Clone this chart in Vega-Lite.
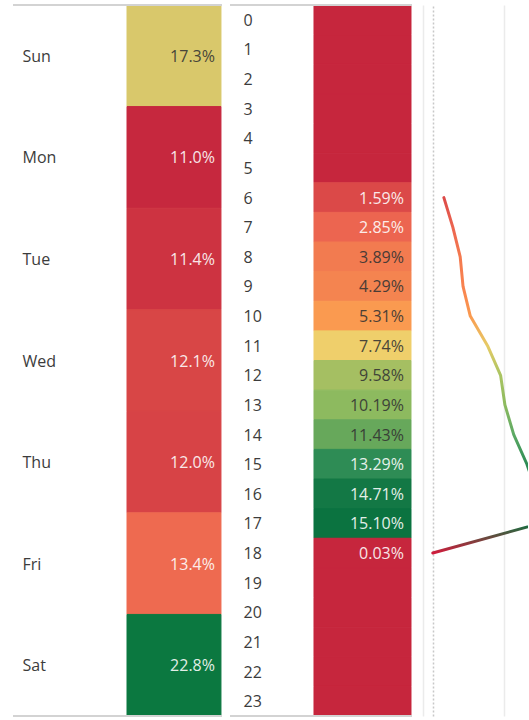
{
  "$schema": "https://vega.github.io/schema/vega-lite/v6.json",
  "padding": {"left": 12, "top": 4, "right": 0, "bottom": 3},
  "config": {"view": {"stroke": null}, "font": "Open Sans", "text": {"font": "Open Sans"}},
  "datasets": {
    "days": [
      {"day": "Sun", "pct": 0.173},
      {"day": "Mon", "pct": 0.110},
      {"day": "Tue", "pct": 0.114},
      {"day": "Wed", "pct": 0.121},
      {"day": "Thu", "pct": 0.120},
      {"day": "Fri", "pct": 0.134},
      {"day": "Sat", "pct": 0.228}
    ],
    "hours": [
      {"hour": 0, "pct": null},
      {"hour": 1, "pct": null},
      {"hour": 2, "pct": null},
      {"hour": 3, "pct": null},
      {"hour": 4, "pct": null},
      {"hour": 5, "pct": null},
      {"hour": 6, "pct": 0.0159},
      {"hour": 7, "pct": 0.0285},
      {"hour": 8, "pct": 0.0389},
      {"hour": 9, "pct": 0.0429},
      {"hour": 10, "pct": 0.0531},
      {"hour": 11, "pct": 0.0774},
      {"hour": 12, "pct": 0.0958},
      {"hour": 13, "pct": 0.1019},
      {"hour": 14, "pct": 0.1143},
      {"hour": 15, "pct": 0.1329},
      {"hour": 16, "pct": 0.1471},
      {"hour": 17, "pct": 0.1510},
      {"hour": 18, "pct": 0.0003},
      {"hour": 19, "pct": null},
      {"hour": 20, "pct": null},
      {"hour": 21, "pct": null},
      {"hour": 22, "pct": null},
      {"hour": 23, "pct": null}
    ]
  },
  "spacing": 10,
  "resolve": {"scale": {"fill": "independent", "stroke": "independent", "x": "independent", "y": "independent"}},
  "hconcat": [
    {
      "spacing": 6,
      "resolve": {"scale": {"fill": "independent", "stroke": "independent", "x": "independent", "y": "independent"}},
      "hconcat": [
        {
          "width": 209,
          "height": 711,
          "data": {"name": "days"},
          "encoding": {
            "y": {
              "field": "day", "type": "nominal",
              "scale": {"domain": ["Sun", "Mon", "Tue", "Wed", "Thu", "Fri", "Sat"], "paddingInner": 0, "paddingOuter": 0},
              "axis": {"orient": "left", "title": null, "domain": false, "ticks": false, "tickSize": 0, "labelAlign": "left", "labelPadding": -9, "labelOffset": 1, "labelFont": "Open Sans", "labelFontSize": 16, "labelColor": "#3c3c3c"}
            }
          },
          "layer": [
            {
              "mark": {"type": "rect", "invalid": null, "strokeWidth": 1},
              "encoding": {
                "x": {"datum": 0.5455, "type": "quantitative", "scale": {"domain": [0, 1], "nice": false, "zero": false}, "axis": null},
                "x2": {"datum": 0.995},
                "fill": {
                  "field": "pct", "type": "quantitative", "legend": null,
                  "scale": {"domain": [0.110, 0.134, 0.173, 0.228], "range": ["#c6283e", "#ee6a50", "#d9c86b", "#0b7840"], "interpolate": "rgb"}
                },
                "stroke": {
                  "field": "pct", "type": "quantitative", "legend": null,
                  "scale": {"domain": [0.110, 0.134, 0.173, 0.228], "range": ["#c6283e", "#ee6a50", "#d9c86b", "#0b7840"], "interpolate": "rgb"}
                }
              }
            },
            {
              "mark": {"type": "text", "align": "right", "baseline": "middle", "dx": -6, "dy": 1, "fontSize": 16, "font": "Open Sans", "opacity": 0.88},
              "encoding": {
                "x": {"datum": 0.995, "type": "quantitative"},
                "text": {"field": "pct", "type": "quantitative", "format": ".1%"},
                "color": {"condition": {"test": "datum.pct > 0.15 && datum.pct < 0.2", "value": "#333333"}, "value": "#ffffff"}
              }
            },
            {
              "mark": {"type": "rule", "color": "#d3d3d3", "strokeWidth": 2},
              "encoding": {"y": {"datum": "Sun", "type": "nominal", "bandPosition": 0}}
            },
            {
              "mark": {"type": "rule", "color": "#d3d3d3", "strokeWidth": 2},
              "encoding": {"y": {"datum": "Sat", "type": "nominal", "bandPosition": 1}}
            }
          ]
        },
        {
          "width": 182,
          "height": 711,
          "data": {"name": "hours"},
          "encoding": {
            "y": {
              "field": "hour", "type": "ordinal",
              "scale": {"domain": [0,1,2,3,4,5,6,7,8,9,10,11,12,13,14,15,16,17,18,19,20,21,22,23], "paddingInner": 0, "paddingOuter": 0},
              "axis": {"orient": "left", "title": null, "domain": false, "ticks": false, "tickSize": 0, "labelAlign": "left", "labelPadding": -13, "labelOffset": 1, "labelFont": "Open Sans", "labelFontSize": 16, "labelColor": "#3c3c3c"}
            }
          },
          "layer": [
            {
              "mark": {"type": "rect", "invalid": null, "strokeWidth": 1},
              "encoding": {
                "x": {"datum": 0.4615, "type": "quantitative", "scale": {"domain": [0, 1], "nice": false, "zero": false}, "axis": null},
                "x2": {"datum": 0.9945},
                "fill": {
                  "condition": {"test": "datum.pct === null", "value": "#c6263d"},
                  "field": "pct", "type": "quantitative", "legend": null,
                  "scale": {"domain": [0.0003, 0.0285, 0.0531, 0.0774, 0.1019, 0.1329, 0.1510], "range": ["#c6263d", "#ec6550", "#fa9a50", "#efcf6b", "#8dba5f", "#2e8c55", "#0b7340"], "interpolate": "rgb"}
                },
                "stroke": {
                  "condition": {"test": "datum.pct === null", "value": "#c6263d"},
                  "field": "pct", "type": "quantitative", "legend": null,
                  "scale": {"domain": [0.0003, 0.0285, 0.0531, 0.0774, 0.1019, 0.1329, 0.1510], "range": ["#c6263d", "#ec6550", "#fa9a50", "#efcf6b", "#8dba5f", "#2e8c55", "#0b7340"], "interpolate": "rgb"}
                }
              }
            },
            {
              "transform": [{"filter": "datum.pct != null"}],
              "mark": {"type": "text", "align": "right", "baseline": "middle", "dx": -7, "dy": 1, "fontSize": 16, "font": "Open Sans", "opacity": 0.88},
              "encoding": {
                "x": {"datum": 0.9945, "type": "quantitative"},
                "text": {"field": "pct", "type": "quantitative", "format": ".2%"},
                "color": {"condition": {"test": "datum.pct > 0.035 && datum.pct < 0.125", "value": "#333333"}, "value": "#ffffff"}
              }
            },
            {
              "mark": {"type": "rule", "color": "#d3d3d3", "strokeWidth": 2},
              "encoding": {"y": {"datum": 0, "type": "ordinal", "bandPosition": 0}}
            },
            {
              "mark": {"type": "rule", "color": "#d3d3d3", "strokeWidth": 2},
              "encoding": {"y": {"datum": 23, "type": "ordinal", "bandPosition": 1}}
            }
          ]
        }
      ]
    },
    {
      "width": 105,
      "height": 711,
      "data": {"name": "hours"},
      "transform": [{"filter": "datum.pct != null"}],
      "mark": {
        "type": "line", "clip": true, "strokeWidth": 3, "strokeCap": "round", "strokeJoin": "round",
        "color": {
          "gradient": "linear", "x1": 0, "y1": 0, "x2": 0, "y2": 1,
          "stops": [
            {"offset": 0, "color": "#dc4a48"},
            {"offset": 0.0833, "color": "#ec6550"},
            {"offset": 0.1667, "color": "#f47a4f"},
            {"offset": 0.25, "color": "#f8824f"},
            {"offset": 0.3333, "color": "#fa9a50"},
            {"offset": 0.4167, "color": "#e6cb66"},
            {"offset": 0.5, "color": "#a9c462"},
            {"offset": 0.5833, "color": "#8dba5f"},
            {"offset": 0.6667, "color": "#5ca964"},
            {"offset": 0.75, "color": "#2e8c55"},
            {"offset": 0.8333, "color": "#1a7e48"},
            {"offset": 0.9167, "color": "#0b7340"},
            {"offset": 1, "color": "#d01c3c"}
          ]
        }
      },
      "encoding": {
        "y": {
          "field": "hour", "type": "ordinal",
          "scale": {"type": "point", "padding": 0.5, "domain": [0,1,2,3,4,5,6,7,8,9,10,11,12,13,14,15,16,17,18,19,20,21,22,23]},
          "axis": {"title": null, "labels": false, "ticks": false, "tickSize": 0, "domain": true, "domainColor": "#ebebeb", "domainWidth": 1.5, "grid": false}
        },
        "x": {
          "field": "pct", "type": "quantitative",
          "scale": {"domain": [-0.0135, 0.1344], "nice": false, "zero": false},
          "axis": {
            "title": null, "labels": false, "ticks": false, "tickSize": 0, "domain": false,
            "values": [0, 0.1], "grid": true, "gridWidth": 1.5,
            "gridColor": {"condition": {"test": "datum.value === 0", "value": "#c8c8c8"}, "value": "#ebebeb"},
            "gridDash": {"condition": {"test": "datum.value === 0", "value": [2, 2]}, "value": []}
          }
        }
      }
    }
  ]
}
